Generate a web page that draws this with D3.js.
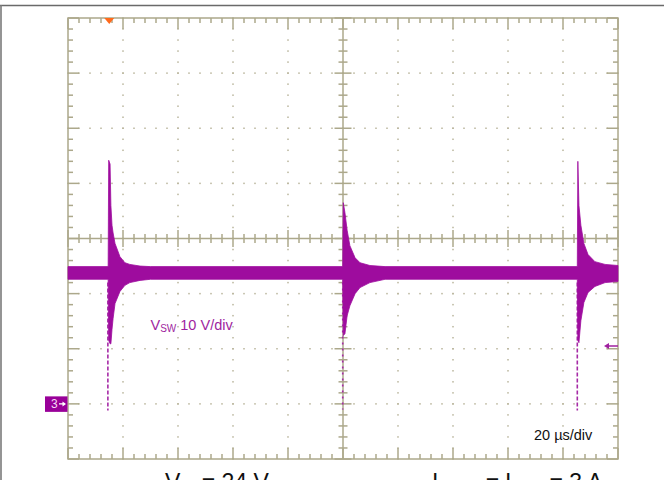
<!DOCTYPE html>
<html>
<head>
<meta charset="utf-8">
<script src="https://cdn.jsdelivr.net/npm/d3@7"></script>
<style>
  html, body { margin: 0; padding: 0; background: #ffffff; }
  svg { display: block; font-family: "Liberation Sans", Arial, sans-serif; }
</style>
</head>
<body>
<svg id="chart" width="664" height="480"></svg>
<script>
// ---- Data ----
// time in microseconds (20 us/div, 10 div), voltage in volts (10 V/div, ground 1 div above bottom)
const timeUs = [0, 14.6, 14.8, 15.3, 15.6, 16.0, 16.4, 17.1, 18.9, 20.7, 22.5, 26.2, 30.0,
                99.9, 100.1, 100.7, 101.5, 102.5, 104.4, 106.2, 109.8, 115.3,
                185.2, 185.4, 185.8, 186.5, 187.6, 189.1, 191.6, 195.3, 200];
const upperV = [24.9, 24.9, 44.2, 43.5, 36.0, 32.4, 31.0, 29.1, 26.7, 25.6, 25.3, 25.0, 24.9,
                24.9, 36.5, 34.7, 31.5, 28.7, 26.5, 25.6, 25.1, 24.9,
                24.9, 44.0, 36.0, 32.4, 29.1, 27.1, 25.8, 25.3, 25.1];
const lowerV = [22.6, 22.6, 11.5, 10.9, 10.9, 13.5, 15.5, 18.2, 20.4, 21.5, 22.0, 22.4, 22.6,
                22.6, 12.4, 12.7, 16.0, 17.8, 20.0, 21.1, 22.0, 22.6,
                22.6, 11.5, 11.1, 15.1, 18.4, 20.2, 21.3, 22.0, 22.2];
// short negative excursions at each switching edge
const dipTimeUs = [14.5, 99.9, 185.2];
const dipMinV = [-1.2, -1.0, -1.2];
// scope settings
const timeDomain = [0, 200];
const voltDomain = [-10, 70];
const triggerTimeUs = 15.0;
const triggerLevelV = 10.5;
const channelLabel = "3";
const voltLabel = ["V", "SW", " 10 V/div"];
const timeLabel = "20 \u00B5s/div";
const condLabels = [
  [["V"], ["IN", true], [" = 24 V", false, true]],
  [["I"], ["LOAD", true], [" =", false, true]],
  [["I"], ["OUT", true], [" = 3 A", false, true]]
];

// ---- Layout ----
const svg = d3.select("#chart");
const L = 68, R = 618, T = 18, B = 459;
const x = d3.scaleLinear().domain(timeDomain).range([L, R]);
const y = d3.scaleLinear().domain(voltDomain).range([B, T]);
const gridCol = "#aca88b";
const dotCol = "#b9b59c";
const traceCol = "#9e0c9e";

// page frame lines
svg.append("line").attr("x1", 0).attr("x2", 664).attr("y1", 5.5).attr("y2", 5.5)
  .attr("stroke", "#6a6a6a").attr("stroke-width", 1.6);
svg.append("line").attr("x1", 1).attr("x2", 1).attr("y1", 5).attr("y2", 480)
  .attr("stroke", "#7a7a7a").attr("stroke-width", 1.6);

const g = svg.append("g");
const xDiv = d3.range(0, 201, 20);
const yDiv = d3.range(-10, 71, 10);
const xMinor = d3.range(0, 200.01, 4);
const yMinor = d3.range(-10, 70.01, 2);

// dotted grid
xDiv.filter(d => d > 0 && d < 200 && d !== 100).forEach(d => {
  yMinor.forEach(v => {
    g.append("rect").attr("x", x(d) - 0.75).attr("y", y(v) - 0.75)
      .attr("width", 1.5).attr("height", 1.5).attr("fill", dotCol);
  });
});
yDiv.filter(v => v > -10 && v < 70 && v !== 30).forEach(v => {
  xMinor.forEach(d => {
    g.append("rect").attr("x", x(d) - 0.75).attr("y", y(v) - 0.75)
      .attr("width", 1.5).attr("height", 1.5).attr("fill", dotCol);
  });
});

// center crosshair with ticks
g.append("line").attr("x1", L).attr("x2", R).attr("y1", y(30)).attr("y2", y(30))
  .attr("stroke", gridCol).attr("stroke-width", 1.5);
g.append("line").attr("x1", x(100)).attr("x2", x(100)).attr("y1", T).attr("y2", B)
  .attr("stroke", gridCol).attr("stroke-width", 1.5);
xMinor.forEach(d => {
  const major = Math.abs(d % 20) < 1e-6;
  const h = major ? 8.5 : 4.5;
  g.append("line").attr("x1", x(d)).attr("x2", x(d)).attr("y1", y(30) - h).attr("y2", y(30) + h)
    .attr("stroke", gridCol).attr("stroke-width", 1.5);
});
yMinor.forEach(v => {
  const major = Math.abs((v + 10) % 10) < 1e-6;
  const h = major ? 8.5 : 4.5;
  g.append("line").attr("x1", x(100) - h).attr("x2", x(100) + h).attr("y1", y(v)).attr("y2", y(v))
    .attr("stroke", gridCol).attr("stroke-width", 1.5);
});

// border ticks
xMinor.forEach(d => {
  const major = Math.abs(d % 20) < 1e-6;
  const h = major ? 11 : 5;
  g.append("line").attr("x1", x(d)).attr("x2", x(d)).attr("y1", T).attr("y2", T + h)
    .attr("stroke", gridCol).attr("stroke-width", 1.5);
  g.append("line").attr("x1", x(d)).attr("x2", x(d)).attr("y1", B).attr("y2", B - h)
    .attr("stroke", gridCol).attr("stroke-width", 1.5);
});
yMinor.forEach(v => {
  const major = Math.abs((v + 10) % 10) < 1e-6;
  const h = major ? 11 : 5;
  g.append("line").attr("x1", L).attr("x2", L + h).attr("y1", y(v)).attr("y2", y(v))
    .attr("stroke", gridCol).attr("stroke-width", 1.5);
  g.append("line").attr("x1", R).attr("x2", R - h).attr("y1", y(v)).attr("y2", y(v))
    .attr("stroke", gridCol).attr("stroke-width", 1.5);
});
// border
g.append("rect").attr("x", L).attr("y", T).attr("width", R - L).attr("height", B - T)
  .attr("fill", "none").attr("stroke", gridCol).attr("stroke-width", 1.5);

// ---- Trace ----
dipTimeUs.forEach((t, i) => {
  g.append("line").attr("x1", x(t)).attr("x2", x(t))
    .attr("y1", y(22)).attr("y2", y(dipMinV[i]))
    .attr("stroke", "#a62aa6").attr("stroke-width", 1.6)
    .attr("stroke-dasharray", i === 1 ? "2,4" : "4,2");
});
const traceData = timeUs.map((t, i) => ({ t, hi: upperV[i], lo: lowerV[i] }));
const area = d3.area().x(d => x(d.t)).y0(d => y(d.lo)).y1(d => y(d.hi));
g.append("path").datum(traceData).attr("d", area)
  .attr("fill", traceCol).attr("stroke", traceCol).attr("stroke-width", 0.8);

// ---- Markers ----
// trigger position (orange, top)
const tx = x(triggerTimeUs);
svg.append("path").attr("d", `M${tx - 5},${T} L${tx + 5},${T} L${tx},${T + 6} Z`).attr("fill", "#ff6a1c");
// trigger level arrow (right)
const ty = y(triggerLevelV);
svg.append("line").attr("x1", R - 10).attr("x2", R).attr("y1", ty).attr("y2", ty)
  .attr("stroke", "#a020a0").attr("stroke-width", 1.5);
svg.append("path").attr("d", `M${R - 14},${ty} L${R - 9},${ty - 3} L${R - 9},${ty + 3} Z`).attr("fill", "#a020a0");
// channel ground marker
const gy = y(0);
svg.append("rect").attr("x", 45).attr("y", gy - 7.5).attr("width", 22.5).attr("height", 15.5).attr("fill", "#990099");
svg.append("text").attr("x", 51).attr("y", gy + 4.5).attr("fill", "#f4d8f4")
  .attr("font-size", 12).text(channelLabel);
svg.append("line").attr("x1", 59).attr("x2", 65).attr("y1", gy).attr("y2", gy)
  .attr("stroke", "#ffffff").attr("stroke-width", 1.3);
svg.append("path").attr("d", `M66,${gy} L62.5,${gy - 2.5} L62.5,${gy + 2.5} Z`).attr("fill", "#ffffff");

// ---- Labels ----
const vl = svg.append("text").attr("x", 150.5).attr("y", 330).attr("fill", "#a01fa0").attr("font-size", 14.5);
vl.append("tspan").text(voltLabel[0]);
vl.append("tspan").attr("font-size", 10).attr("dy", 2).text(voltLabel[1]);
vl.append("tspan").attr("dy", -2).text(voltLabel[2]);

svg.append("text").attr("x", 534).attr("y", 439.5).attr("fill", "#111").attr("font-size", 14.5).text(timeLabel);

// bottom conditions (mostly cut off by the picture edge, as in the reference)
function condText(xp, parts) {
  const t = svg.append("text").attr("x", xp).attr("y", 490).attr("fill", "#111").attr("font-size", 23);
  parts.forEach(p => {
    const s = t.append("tspan").text(p[0]);
    if (p[1]) s.attr("font-size", 15).attr("dy", 4); else if (p[2]) s.attr("dy", -4);
  });
}
condText(165, condLabels[0]);
condText(432, condLabels[1]);
condText(505, condLabels[2]);
</script>
</body>
</html>
